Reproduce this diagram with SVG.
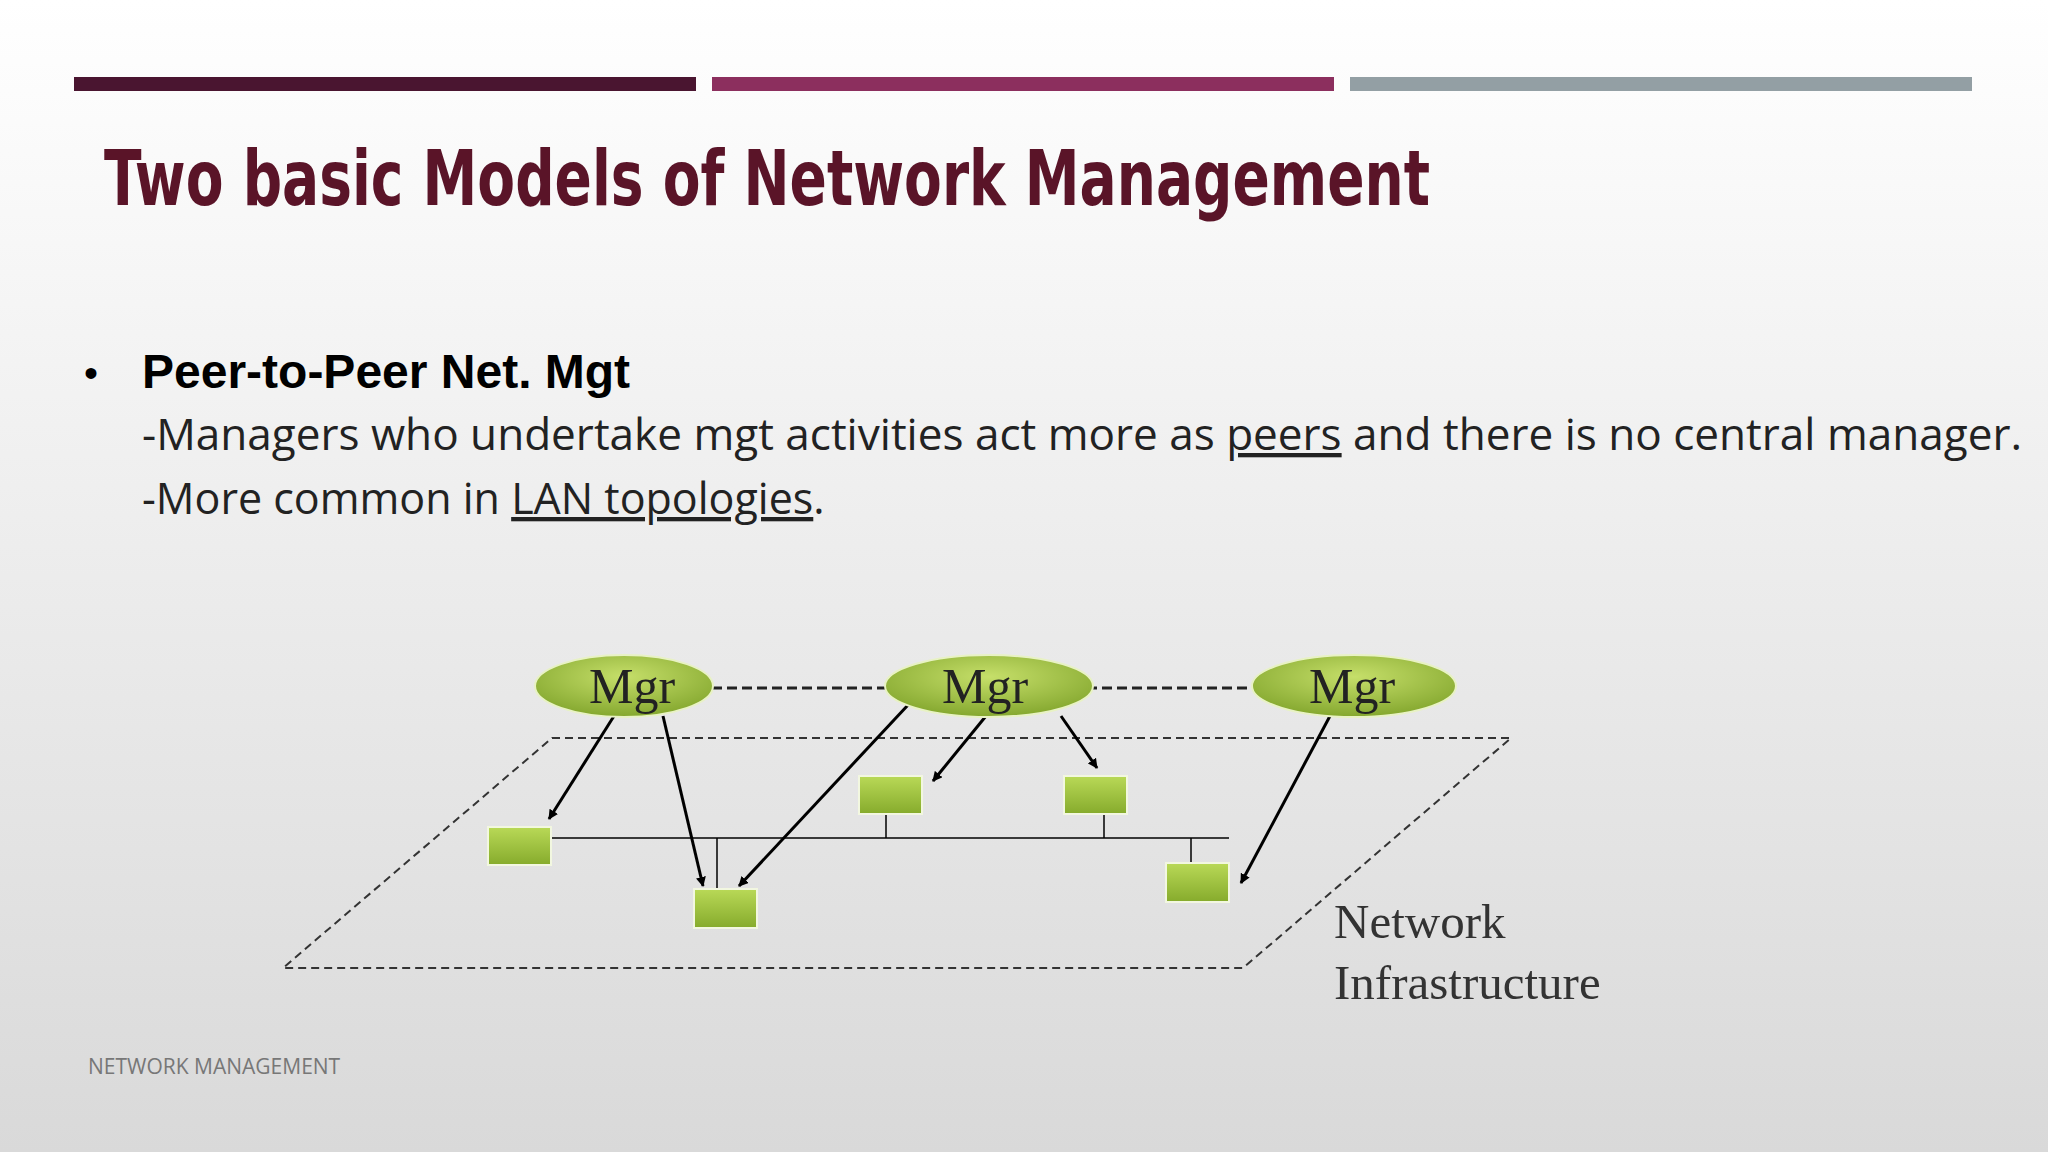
<svg xmlns="http://www.w3.org/2000/svg" width="2048" height="1152" viewBox="0 0 2048 1152">
<defs>
<linearGradient id="bg" x1="0" y1="0" x2="0" y2="1"><stop offset="0" stop-color="#ffffff"/><stop offset="1" stop-color="#d9d9d9"/></linearGradient>
<radialGradient id="eg" cx="0.5" cy="0.35" r="0.7"><stop offset="0" stop-color="#c6df6a"/><stop offset="1" stop-color="#7fa32a"/></radialGradient>
<linearGradient id="bx" x1="0" y1="0" x2="0" y2="1"><stop offset="0" stop-color="#b9d957"/><stop offset="1" stop-color="#86ab2c"/></linearGradient>
<marker id="ah" markerWidth="10" markerHeight="10" refX="9" refY="5" orient="auto" markerUnits="userSpaceOnUse"><path d="M0,0 L10,5 L0,10 z" fill="#000"/></marker>
<style>
.mgr{fill:url(#eg);stroke:#e8f2c4;stroke-width:2}
.mt{font-family:"Liberation Serif",serif;font-size:50px;fill:#222;text-anchor:middle}
.box{fill:url(#bx);stroke:#f2f7e0;stroke-width:2}
.ar{stroke:#000;stroke-width:3;fill:none;marker-end:url(#ah)}
.ln{stroke:#000;stroke-width:1.5}
</style>
</defs>
<rect width="2048" height="1152" fill="url(#bg)"/>
<rect x="74" y="77" width="622" height="14" fill="#4a1530"/>
<rect x="712" y="77" width="622" height="14" fill="#8c2f5e"/>
<rect x="1350" y="77" width="622" height="14" fill="#939fa4"/>
<text x="104" y="205" font-family="'DejaVu Sans Condensed','DejaVu Sans',sans-serif" font-weight="bold" font-size="76" fill="#5a1428" textLength="1326" lengthAdjust="spacingAndGlyphs">Two basic Models of Network Management</text>
<text x="84" y="387" font-family="'Liberation Sans',sans-serif" font-size="40" fill="#000">•</text>
<text x="142" y="388" font-family="'Liberation Sans',sans-serif" font-weight="bold" font-size="48" fill="#000">Peer-to-Peer Net. Mgt</text>
<text x="142" y="450" font-family="'Open Sans',sans-serif" font-size="43" fill="#222" textLength="1880" lengthAdjust="spacingAndGlyphs">-Managers who undertake mgt activities act more as <tspan text-decoration="underline">peers</tspan>  and there is no central manager.</text>
<text x="142" y="514" font-family="'Open Sans',sans-serif" font-size="43" fill="#222">-More common in <tspan text-decoration="underline">LAN topologies</tspan>.</text>
<g id="plane"><polygon points="552,738 1511,738 1243,968 283,968" fill="none" stroke="#333" stroke-width="2" stroke-dasharray="8,5"/></g>
<g id="connectors">
<line x1="712" y1="688" x2="1306" y2="688" stroke="#222" stroke-width="3" stroke-dasharray="10,5"/>
<line class="ln" x1="551" y1="838" x2="1229" y2="838" stroke-width="3"/>
<line class="ln" x1="886" y1="814" x2="886" y2="838"/>
<line class="ln" x1="1104" y1="814" x2="1104" y2="838"/>
<line class="ln" x1="1191" y1="838" x2="1191" y2="863"/>
<line class="ln" x1="717" y1="838" x2="717" y2="889"/>
<line class="ar" x1="614" y1="716" x2="549" y2="819"/>
<line class="ar" x1="663" y1="716" x2="703" y2="886"/>
<line class="ar" x1="908" y1="705" x2="739" y2="886"/>
<line class="ar" x1="986" y1="716" x2="933" y2="781"/>
<line class="ar" x1="1061" y1="716" x2="1097" y2="768"/>
<line class="ar" x1="1330" y1="716" x2="1241" y2="883"/>
</g>
<g id="mgr1"><ellipse class="mgr" cx="624" cy="686" rx="89" ry="31"/><text class="mt" x="632" y="703">Mgr</text></g>
<g id="mgr2"><ellipse class="mgr" cx="989" cy="686" rx="104" ry="31"/><text class="mt" x="985" y="703">Mgr</text></g>
<g id="mgr3"><ellipse class="mgr" cx="1354" cy="686" rx="102" ry="31"/><text class="mt" x="1352" y="703">Mgr</text></g>
<g id="boxA"><rect class="box" x="488" y="827" width="63" height="38"/></g>
<g id="boxB"><rect class="box" x="694" y="889" width="63" height="39"/></g>
<g id="boxC"><rect class="box" x="859" y="776" width="63" height="38"/></g>
<g id="boxD"><rect class="box" x="1064" y="776" width="63" height="38"/></g>
<g id="boxE"><rect class="box" x="1166" y="863" width="63" height="39"/></g>
<g id="label"><text font-family="'Liberation Serif',serif" font-size="49" fill="#333"><tspan x="1334" y="938">Network</tspan><tspan x="1334" y="999">Infrastructure</tspan></text></g>
<text x="88" y="1074" font-family="'Open Sans',sans-serif" font-size="21" fill="#777">NETWORK MANAGEMENT</text>
</svg>
